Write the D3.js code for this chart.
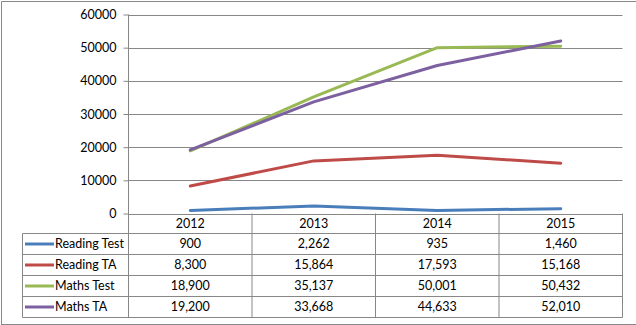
<!DOCTYPE html>
<html>
<head>
<meta charset="utf-8">
<script src="https://cdn.jsdelivr.net/npm/d3@7"></script>
<style>
  html, body { margin: 0; padding: 0; background: #fff; }
  svg { display: block; font-family: Lato, "Noto Sans", sans-serif; }
</style>
</head>
<body>
<svg id="chart" width="636" height="325"></svg>
<script>
// Category labels (years) and series
const years = ["2012", "2013", "2014", "2015"];
const seriesNames = ["Reading Test", "Reading TA", "Maths Test", "Maths TA"];
const readingTest = [900, 2262, 935, 1460];
const readingTA = [8300, 15864, 17593, 15168];
const mathsTest = [18900, 35137, 50001, 50432];
const mathsTA = [19200, 33668, 44633, 52010];
const yTicks = [0, 10000, 20000, 30000, 40000, 50000, 60000];

const colors = ["#4A7EBB", "#BE4B48", "#98B954", "#7D60A0"];
const seriesValues = [readingTest, readingTA, mathsTest, mathsTA];
const series = seriesNames.map((name, i) => ({ name, values: seriesValues[i], color: colors[i] }));

const svg = d3.select("#chart");
const gridColor = "#878787";
const fontSize = 12.5;

// Layout of plot area and data table
const plot = { left: 128.5, right: 622.5, top: 14.5, bottom: 213.5 };
const tableLeft = 22.5;
const rowH = 21;
const headerBottom = 233.5;
const tableBottom = headerBottom + rowH * series.length;

const x = d3.scaleBand().domain(years).range([plot.left, plot.right]).padding(0);
const y = d3.scaleLinear().domain([0, 60000]).range([plot.bottom, plot.top]);

// Outer chart frame
svg.append("path")
  .attr("d", "M1.5,330 V1.5 H640 M1.5,324.5 H640")
  .attr("fill", "none").attr("stroke", gridColor).attr("stroke-width", 1);

// Horizontal gridlines
svg.append("g").selectAll("line").data(yTicks).join("line")
  .attr("x1", plot.left).attr("x2", plot.right)
  .attr("y1", d => Math.round(y(d)) + 0.5).attr("y2", d => Math.round(y(d)) + 0.5)
  .attr("stroke", gridColor).attr("stroke-width", 1);

// Value axis with outward ticks
const yAxis = d3.axisLeft(y).tickValues(yTicks).tickSize(5).tickPadding(7).tickFormat(d3.format("d"));
const yG = svg.append("g").attr("transform", `translate(${plot.left},0)`).call(yAxis);
yG.select(".domain").remove();
yG.selectAll(".tick line").attr("stroke", gridColor);
yG.selectAll(".tick text").attr("fill", "#000").attr("font-size", fontSize)
  .attr("font-family", "Lato, 'Noto Sans', sans-serif");

// Axis line continues down through the table
svg.append("line")
  .attr("x1", plot.left).attr("x2", plot.left)
  .attr("y1", plot.top).attr("y2", tableBottom)
  .attr("stroke", gridColor);

// Series lines
const line = d3.line().x((d, i) => x(years[i]) + x.bandwidth() / 2).y(d => y(d));
svg.append("g").selectAll("path").data(series).join("path")
  .attr("d", d => line(d.values))
  .attr("fill", "none")
  .attr("stroke", d => d.color)
  .attr("stroke-width", 3)
  .attr("stroke-linejoin", "round")
  .attr("stroke-linecap", "round");

// Data table grid
const tg = svg.append("g");
years.forEach(yr => {
  const xr = x(yr) + x.bandwidth();
  tg.append("line").attr("x1", xr).attr("x2", xr)
    .attr("y1", plot.bottom).attr("y2", tableBottom).attr("stroke", gridColor);
});
tg.append("line").attr("x1", tableLeft).attr("x2", tableLeft)
  .attr("y1", headerBottom).attr("y2", tableBottom).attr("stroke", gridColor);
d3.range(series.length + 1).forEach(i => {
  const yy = headerBottom + i * rowH;
  tg.append("line").attr("x1", tableLeft).attr("x2", plot.right)
    .attr("y1", yy).attr("y2", yy).attr("stroke", gridColor);
});

// Header row: category labels
tg.selectAll("text.year").data(years).join("text")
  .attr("class", "year")
  .attr("x", d => x(d) + x.bandwidth() / 2)
  .attr("y", (plot.bottom + headerBottom) / 2)
  .attr("dy", "0.35em")
  .attr("text-anchor", "middle")
  .attr("font-size", fontSize)
  .text(d => d);

// Table rows: legend key, series name, values
const fmt = d3.format(",");
series.forEach((s, i) => {
  const cy = headerBottom + i * rowH + rowH / 2;
  tg.append("line").attr("x1", 25).attr("x2", 54)
    .attr("y1", cy).attr("y2", cy)
    .attr("stroke", s.color).attr("stroke-width", 3);
  tg.append("text").attr("x", 55).attr("y", cy).attr("dy", "0.35em")
    .attr("font-size", fontSize).text(s.name);
  s.values.forEach((v, j) => {
    tg.append("text")
      .attr("x", x(years[j]) + x.bandwidth() / 2)
      .attr("y", cy).attr("dy", "0.35em")
      .attr("text-anchor", "middle")
      .attr("font-size", fontSize)
      .text(fmt(v));
  });
});
</script>
</body>
</html>
